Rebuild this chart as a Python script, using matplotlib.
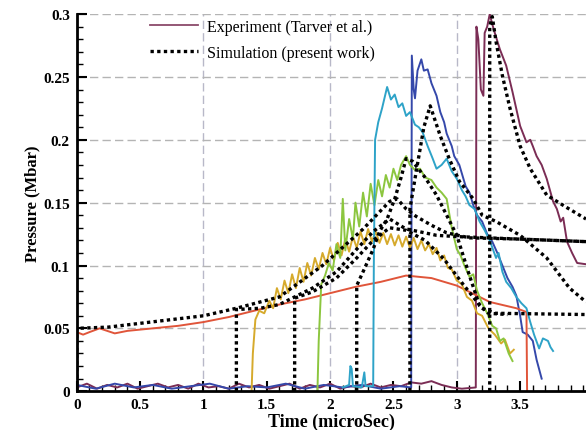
import matplotlib
matplotlib.use('Agg')
import matplotlib.pyplot as plt
from matplotlib.lines import Line2D
from matplotlib import ticker

plt.rcParams['font.family'] = ['Liberation Serif', 'DejaVu Serif']

# experimental gauge records (Tarver et al.)
red_t = [0, 0.05, 0.1, 0.18, 0.3, 0.4, 0.6, 0.8, 1.0, 1.2, 1.4, 1.6, 1.8, 2.0, 2.2, 2.4, 2.6,
         2.8, 3.0, 3.16, 3.26, 3.47, 3.55, 3.555]
red_p = [0.047, 0.045, 0.047, 0.05, 0.046, 0.048, 0.05, 0.052, 0.055, 0.059, 0.064, 0.069, 0.073,
         0.078, 0.083, 0.087, 0.092, 0.09, 0.084, 0.076, 0.071, 0.066, 0.063, 0.0]

yel_t = [1.38, 1.39, 1.41, 1.44, 1.48, 1.52, 1.55, 1.58, 1.61, 1.64, 1.67, 1.7, 1.73, 1.76, 1.79,
         1.82, 1.85, 1.88, 1.91, 1.94, 1.97, 2.0, 2.03, 2.06, 2.09, 2.12, 2.15, 2.18, 2.21, 2.24,
         2.27, 2.3, 2.33, 2.36, 2.39, 2.42, 2.45, 2.48, 2.51, 2.54, 2.57, 2.6, 2.63, 2.66, 2.69,
         2.72, 2.75, 2.78, 2.81, 2.84, 2.87, 2.9, 2.93, 2.96, 3.0, 3.04, 3.08, 3.12, 3.16, 3.2,
         3.25, 3.3, 3.35, 3.38, 3.42, 3.45]
yel_p = [0.0, 0.03, 0.057, 0.064, 0.062, 0.072, 0.066, 0.082, 0.073, 0.088, 0.078, 0.093, 0.082,
         0.098, 0.087, 0.102, 0.092, 0.106, 0.097, 0.11, 0.101, 0.114, 0.104, 0.118, 0.108, 0.121,
         0.111, 0.123, 0.114, 0.127, 0.117, 0.129, 0.119, 0.127, 0.118, 0.126, 0.117, 0.125, 0.116,
         0.124, 0.115, 0.123, 0.114, 0.122, 0.113, 0.12, 0.112, 0.117, 0.109, 0.114, 0.104, 0.108,
         0.098, 0.097, 0.088, 0.085, 0.075, 0.072, 0.062, 0.06, 0.05, 0.045, 0.038, 0.041, 0.03,
         0.033]

grn_t = [1.9, 1.91, 1.93, 1.96, 1.99, 2.02, 2.05, 2.08, 2.1, 2.12, 2.15, 2.18, 2.2, 2.23, 2.26,
         2.29, 2.32, 2.35, 2.38, 2.41, 2.44, 2.47, 2.5, 2.53, 2.56, 2.6, 2.63, 2.67, 2.71, 2.75,
         2.8, 2.84, 2.88, 2.92, 2.96, 3.0, 3.03, 3.06, 3.1, 3.13, 3.16, 3.2, 3.24, 3.28, 3.31,
         3.34, 3.37, 3.41, 3.44]
grn_p = [0.0, 0.04, 0.085, 0.092, 0.102, 0.096, 0.117, 0.106, 0.153, 0.112, 0.137, 0.121, 0.15,
         0.131, 0.158, 0.139, 0.165, 0.148, 0.168, 0.155, 0.172, 0.162, 0.177, 0.168, 0.18, 0.187,
         0.18, 0.176, 0.177, 0.17, 0.168, 0.162, 0.158, 0.153, 0.13, 0.113, 0.108, 0.1, 0.091,
         0.093, 0.08, 0.07, 0.062, 0.052, 0.05, 0.04, 0.042, 0.03, 0.024]

cyn_t = [2.1, 2.15, 2.16, 2.17, 2.18, 2.25, 2.27, 2.28, 2.34, 2.345, 2.355, 2.38, 2.41, 2.45, 2.48,
         2.51, 2.54, 2.57, 2.6, 2.63, 2.67, 2.7, 2.73, 2.77, 2.81, 2.84, 2.88, 2.92, 2.96, 3.0,
         3.04, 3.07, 3.1, 3.14, 3.18, 3.22, 3.26, 3.31, 3.33, 3.36, 3.39, 3.43, 3.47, 3.51, 3.55,
         3.58, 3.61, 3.65, 3.68, 3.72, 3.74, 3.76]
cyn_p = [0.003, 0.005, 0.02, 0.018, 0.004, 0.003, 0.015, 0.004, 0.004, 0.1, 0.2, 0.214, 0.225,
         0.242, 0.232, 0.236, 0.226, 0.229, 0.219, 0.222, 0.212, 0.21, 0.206, 0.195, 0.185, 0.177,
         0.18, 0.185, 0.175, 0.169, 0.16, 0.155, 0.148, 0.145, 0.135, 0.128, 0.12, 0.106, 0.11,
         0.095, 0.087, 0.082, 0.075, 0.07, 0.066, 0.055, 0.045, 0.034, 0.042, 0.04, 0.035, 0.032]

blu_t = [0.0, 0.15, 0.3, 0.45, 0.6, 0.75, 0.9, 1.05, 1.2, 1.35, 1.5, 1.65, 1.8, 1.95, 2.1, 2.25,
         2.4, 2.55, 2.64, 2.645, 2.66, 2.67, 2.69, 2.72, 2.74, 2.77, 2.8, 2.84, 2.87, 2.9, 2.92,
         2.94, 2.96, 2.98, 3.02, 3.07, 3.1, 3.13, 3.16, 3.2, 3.24, 3.28, 3.32, 3.36, 3.4, 3.44,
         3.47, 3.5, 3.52, 3.56, 3.6, 3.63, 3.67]
blu_p = [0.005, 0.002, 0.006, 0.003, 0.005, 0.002, 0.004, 0.006, 0.002, 0.004, 0.003, 0.006,
         0.002, 0.005, 0.003, 0.005, 0.002, 0.004, 0.003, 0.267, 0.24, 0.233, 0.255, 0.264, 0.255,
         0.256, 0.245, 0.235, 0.222, 0.214, 0.205, 0.2, 0.195, 0.187, 0.18, 0.163, 0.158, 0.148,
         0.14, 0.135, 0.125, 0.119, 0.11, 0.1, 0.09, 0.083, 0.076, 0.06, 0.047, 0.045, 0.04,
         0.025, 0.01]

pur_t = [0.0, 0.08, 0.16, 0.24, 0.32, 0.4, 0.48, 0.56, 0.64, 0.72, 0.8, 0.88, 0.96, 1.04, 1.12,
         1.2, 1.28, 1.36, 1.44, 1.52, 1.6, 1.68, 1.76, 1.84, 1.92, 2.0, 2.08, 2.16, 2.24, 2.32,
         2.4, 2.48, 2.56, 2.64, 2.72, 2.8, 2.88, 2.96, 3.04, 3.15, 3.155, 3.17, 3.19, 3.21, 3.22,
         3.24, 3.26, 3.28, 3.3, 3.34, 3.39, 3.44, 3.5, 3.55, 3.58, 3.6, 3.63, 3.67, 3.71, 3.76,
         3.79, 3.82, 3.84, 3.87, 3.91, 3.95, 4.02]
pur_p = [0.003, 0.006, 0.002, 0.005, 0.003, 0.006, 0.002, 0.004, 0.006, 0.003, 0.005, 0.002,
         0.006, 0.003, 0.004, 0.002, 0.006, 0.003, 0.005, 0.002, 0.004, 0.006, 0.002, 0.005,
         0.003, 0.006, 0.002, 0.004, 0.003, 0.006, 0.003, 0.005, 0.004, 0.007, 0.006, 0.008,
         0.005, 0.003, 0.002, 0.003, 0.29, 0.28, 0.24, 0.235, 0.285, 0.29, 0.3, 0.292, 0.285,
         0.272, 0.259, 0.238, 0.211, 0.198, 0.2, 0.195, 0.187, 0.18, 0.169, 0.151, 0.145, 0.135,
         0.138, 0.119, 0.11, 0.102, 0.101]

# simulated gauges (present work)
s1_t = [0, 0, 0.25, 0.5, 1.0, 1.26, 1.6, 1.94, 2.26, 2.47, 2.53, 2.6, 2.68, 2.8, 2.92, 3.1, 3.5, 4.02]
s1_p = [0, 0.05, 0.051, 0.054, 0.06, 0.066, 0.075, 0.1, 0.129, 0.151, 0.153, 0.145, 0.139, 0.132,
        0.126, 0.122, 0.121, 0.119]
s2_t = [1.26, 1.26, 1.45, 1.6, 1.86, 2.05, 2.21, 2.34, 2.47, 2.6, 2.7, 2.84, 3.0, 3.5, 4.02]
s2_p = [0, 0.065, 0.066, 0.069, 0.082, 0.095, 0.113, 0.127, 0.137, 0.129, 0.127, 0.124, 0.123,
        0.121, 0.119]
s3_t = [1.72, 1.72, 1.86, 2.05, 2.21, 2.34, 2.47, 2.6, 2.75, 2.9, 3.05, 3.2, 3.3, 4.02]
s3_p = [0, 0.074, 0.079, 0.09, 0.106, 0.12, 0.13, 0.128, 0.12, 0.105, 0.085, 0.066, 0.062, 0.061]
s4_t = [2.21, 2.21, 2.26, 2.34, 2.39, 2.45, 2.51, 2.56, 2.6, 2.65, 2.75, 2.84, 3.0, 3.1, 3.18, 3.25, 3.4]
s4_p = [0, 0.084, 0.095, 0.113, 0.127, 0.137, 0.153, 0.17, 0.185, 0.183, 0.17, 0.156, 0.124,
        0.092, 0.068, 0.062, 0.061]
s5_t = [2.63, 2.63, 2.68, 2.74, 2.79, 2.87, 2.94, 3.02, 3.13, 3.2, 3.31, 3.5, 3.71, 3.89, 4.02]
s5_p = [0, 0.145, 0.175, 0.21, 0.227, 0.203, 0.185, 0.167, 0.153, 0.14, 0.135, 0.124, 0.106,
        0.082, 0.071]
s6_t = [3.26, 3.26, 3.28, 3.31, 3.36, 3.42, 3.5, 3.58, 3.71, 3.87, 4.02]
s6_p = [0, 0.29, 0.298, 0.278, 0.251, 0.225, 0.195, 0.177, 0.156, 0.146, 0.137]

x_ticks = [0, 0.5, 1, 1.5, 2, 2.5, 3, 3.5]

fig = plt.figure(figsize=(5.86, 4.31), dpi=100)
ax = fig.add_axes([0.131, 0.09, 0.869, 0.875])

ax.plot(pur_t, pur_p, color='#7b2d55', lw=1.4)
ax.plot(blu_t, blu_p, color='#3548aa', lw=1.4)
ax.plot(red_t, red_p, color='#e0553a', lw=1.4)
ax.plot(yel_t, yel_p, color='#d6aa2c', lw=1.4)
ax.plot(grn_t, grn_p, color='#8cc63f', lw=1.4)
ax.plot(cyn_t, cyn_p, color='#2ea3c8', lw=1.4)

dot = (0, (1, 1))
for t, p in [(s1_t, s1_p), (s2_t, s2_p), (s3_t, s3_p), (s4_t, s4_p), (s5_t, s5_p), (s6_t, s6_p)]:
    ax.plot(t, p, color='black', lw=2.4, linestyle=dot, dash_capstyle='butt')

ax.set_xlim(0, 4.02)
ax.set_ylim(0, 0.3)
ax.xaxis.set_major_locator(ticker.FixedLocator(x_ticks))
ax.xaxis.set_minor_locator(ticker.MultipleLocator(0.1))
ax.yaxis.set_major_locator(ticker.MultipleLocator(0.05))
ax.yaxis.set_minor_locator(ticker.MultipleLocator(0.01))
ax.xaxis.set_major_formatter(ticker.FormatStrFormatter('%g'))
ax.yaxis.set_major_formatter(ticker.FormatStrFormatter('%g'))
ax.tick_params(which='major', direction='in', length=7, width=1.5, labelsize=11, pad=5)
ax.tick_params(which='minor', direction='in', length=4, width=1)
for lab in ax.get_xticklabels() + ax.get_yticklabels():
    lab.set_fontweight('bold')

# grid: vertical every 1 microsec, horizontal every 0.05
for xv in [1, 2, 3]:
    ax.axvline(xv, color='#b8b8c8', lw=1, ls=(0, (6, 3)), zorder=0)
for yv in [0.05, 0.1, 0.15, 0.2, 0.25, 0.3]:
    ax.axhline(yv, color='#b4b4b4', lw=1, ls=(0, (6, 3)), zorder=0)

for s in ['top', 'right']:
    ax.spines[s].set_visible(False)
ax.spines['left'].set_linewidth(2)
ax.spines['bottom'].set_linewidth(2)

ax.set_xlabel('Time (microSec)', fontsize=13, fontweight='bold', labelpad=1)
ax.set_ylabel('Pressure (Mbar)', fontsize=12, fontweight='bold', labelpad=2)

handles = [Line2D([], [], color='#8b4a6a', lw=1.3),
           Line2D([], [], color='black', lw=2.4, linestyle=dot, dash_capstyle='butt')]
ax.legend(handles, ['Experiment (Tarver et al.)', 'Simulation (present work)'],
          loc='upper left', bbox_to_anchor=(0.115, 1.025), frameon=False, fontsize=11.5,
          handlelength=3.0, handletextpad=0.6, labelspacing=0.6)

fig.savefig('out.png', dpi=100)
